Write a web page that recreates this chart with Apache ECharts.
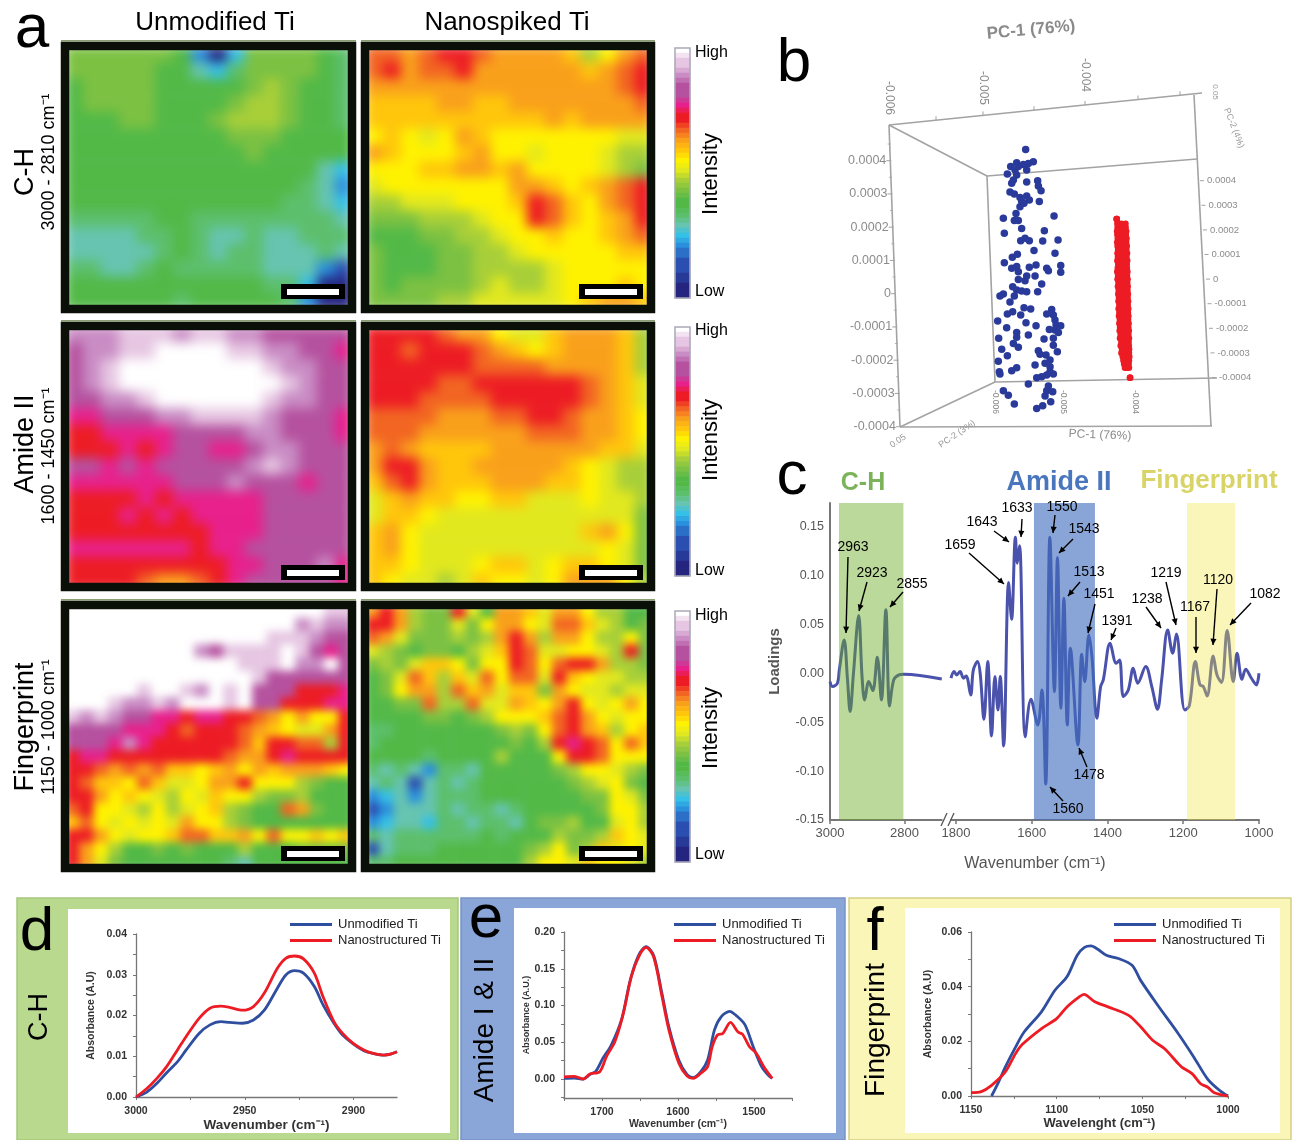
<!DOCTYPE html>
<html><head><meta charset="utf-8"><style>html,body{margin:0;padding:0;background:#fff}#m{width:1293px;height:1140px}</style>
<script src="https://cdn.jsdelivr.net/npm/echarts@6/dist/echarts.min.js"></script></head><body><div id="m"></div>
<script>
// ---- colour scale of the maps, low to high
const intensityColors=['#25257f','#2b4fb0','#2a8fdc','#35c0e8','#66c4b0','#5cbf6c','#52b947','#7cc142','#a8cf38','#e2e81e','#fff200','#ffc60b','#f9a01b','#f26522','#ed1c24','#e8208c','#b5519f','#c98cc4','#e6c6e2','#ffffff'];
const barLevels=[19,18.5,18,18,17.5,17,16.5,16,16,16,15.5,15,14.5,14,14,13.5,13,12.5,12,11.5,11,10.5,10,9.5,9,8.5,8,7.5,7,6.5,6,6,5.5,5,4.5,4,3.5,3,2.5,2,1.5,1.5,1,1,1,.5,.5,0,0,0];
// ---- panel a maps (intensity level per cell, top row first)
const chUnmod=[
[7,7,7,7,7,7,6,2,0,3,7,7,7,7,6,5],[7,7,7,7,7,6,6,4,3,5,7,7,7,7,6,5],[6,7,7,7,7,6,6,6,6,6,7,8,7,6,6,5],[6,7,7,7,7,6,6,6,6,7,8,8,7,6,6,5],
[6,6,6,7,7,6,6,6,7,8,8,8,7,6,6,5],[6,6,6,6,6,6,6,6,6,7,7,7,6,6,6,6],[6,6,6,6,6,6,6,6,6,6,7,6,6,6,6,6],[6,6,6,6,6,6,6,6,6,6,6,6,6,6,4,3],
[6,6,6,6,6,6,6,6,6,6,6,6,6,5,4,2],[6,6,6,6,6,6,6,6,6,6,6,6,5,5,4,3],[5,5,5,5,5,6,6,5,5,5,5,5,5,5,5,4],[4,4,4,4,5,5,6,5,4,4,5,4,4,5,5,5],
[4,4,4,4,4,5,6,5,4,5,5,4,4,4,5,4],[5,5,4,4,5,6,5,5,5,5,5,4,4,4,2,1],[6,6,6,6,6,6,6,6,6,6,6,5,5,3,0,0],[6,6,6,6,6,6,5,6,6,6,6,6,5,2,0,0]];
const chSpiked=[
[13,13,12,13,14,14,13,12,12,12,12,11,8,10,12,13],[13,14,12,13,13,14,12,12,12,12,12,12,11,12,13,14],[12,12,12,12,12,12,12,12,12,12,12,12,12,12,13,14],[11,11,11,11,12,12,11,11,12,12,12,12,12,12,12,13],
[11,11,11,11,11,11,11,11,11,11,12,11,12,12,12,12],[10,11,10,9,10,12,11,10,10,10,10,10,10,10,9,9],[12,11,10,10,10,11,12,10,10,9,10,10,10,9,8,8],[10,10,10,11,11,12,12,11,12,10,10,10,10,9,8,7],
[9,10,10,10,10,10,10,10,12,12,11,10,11,12,13,14],[8,8,9,9,9,10,10,10,11,14,13,11,10,12,13,14],[7,7,7,8,8,8,9,10,10,14,13,11,10,11,12,14],[6,6,6,7,7,8,8,9,10,10,11,10,10,11,12,13],
[7,6,6,6,7,7,8,8,9,10,10,10,10,10,11,11],[7,6,6,6,7,7,8,8,8,8,9,10,10,10,10,10],[7,6,7,7,7,7,8,9,8,8,9,10,10,10,11,10],[7,7,7,7,8,8,9,9,9,9,9,10,11,12,12,11]];
const amideUnmod=[
[17,17,17,18,18,18,17,18,18,17,17,16,16,16,16,16],[16,17,17,18,18,19,19,19,19,18,18,17,17,16,16,15],[16,17,18,19,19,19,19,19,19,19,19,18,17,17,16,16],[16,17,18,19,19,19,19,19,19,19,19,19,18,17,16,16],
[16,16,17,17,18,19,19,19,19,19,19,18,17,17,16,16],[15,15,16,16,16,17,17,18,18,18,18,17,16,16,16,15],[14,14,15,15,15,15,16,16,16,16,17,17,16,16,16,15],[14,14,14,15,14,15,16,16,15,15,16,17,17,16,16,16],
[16,16,15,16,15,16,16,16,16,16,17,18,17,16,16,16],[15,15,15,15,15,15,16,16,16,17,16,16,16,15,16,16],[14,14,14,14,15,14,15,15,15,15,15,16,16,16,16,16],[14,14,14,15,14,15,14,15,15,15,15,16,16,16,16,16],
[14,14,14,14,14,14,14,14,15,15,15,16,16,16,16,16],[15,15,15,15,15,15,15,14,15,15,16,16,16,16,16,16],[14,14,14,14,14,14,14,14,14,15,15,16,16,16,17,15],[14,14,14,14,13,12,12,13,14,15,16,16,16,16,16,15]];
const amideSpiked=[
[14,14,14,14,13,12,12,10,9,9,11,12,12,12,11,8],[14,14,13,14,14,14,13,12,11,10,11,12,12,12,11,8],[14,14,14,14,14,14,13,13,13,13,12,12,12,12,11,8],[14,14,14,14,13,13,14,14,14,14,14,14,13,12,11,9],
[14,14,14,13,13,13,13,14,14,14,14,14,13,12,11,9],[13,13,13,13,12,12,12,13,13,14,14,13,12,12,11,10],[13,13,13,12,12,12,12,12,12,13,13,13,12,12,11,10],[12,13,12,11,11,11,11,12,12,12,12,12,12,11,11,9],
[12,14,14,12,11,11,12,12,12,12,12,11,10,9,8,8],[11,13,14,12,11,11,11,12,12,12,11,11,10,9,8,8],[9,11,12,11,11,10,10,11,11,9,9,9,10,9,9,8],[9,11,11,10,9,9,9,9,9,9,9,9,9,9,9,7],
[11,12,10,9,9,9,9,9,9,9,9,9,11,12,10,7],[11,12,10,9,9,9,9,9,9,9,9,9,9,10,9,7],[11,11,10,9,9,9,10,11,11,9,10,11,11,10,9,7],[11,10,9,9,8,9,11,10,10,9,10,12,12,12,10,8]];
const fpUnmod=[
[19,19,19,19,19,19,19,19,19,19,19,19,19,19,19,19,19,19,18,18],[19,19,19,19,19,19,19,19,19,19,19,19,19,19,19,19,17,18,17,17],[19,19,19,19,19,19,19,19,19,19,19,19,19,19,18,18,18,17,16,16],[19,19,19,19,19,19,19,19,19,17,16,18,18,18,18,19,18,16,15,16],
[19,19,19,19,19,19,19,19,19,19,19,19,18,18,18,19,17,17,19,16],[19,19,19,19,19,19,19,19,19,19,19,19,19,18,16,16,16,16,16,16],[19,19,19,19,19,18,19,19,18,17,19,18,19,16,16,16,14,14,14,15],[19,19,19,18,17,17,18,17,19,19,19,18,19,16,16,14,14,14,15,15],
[18,17,18,17,16,16,15,15,14,15,15,14,14,13,12,10,12,10,10,14],[16,16,16,16,15,15,15,14,13,14,14,14,13,12,11,10,9,9,12,14],[16,16,16,15,17,15,14,14,14,14,14,14,13,11,14,14,13,13,8,14],[14,15,15,14,14,14,14,14,14,14,14,13,12,12,14,15,14,14,14,14],
[14,14,13,12,13,12,13,11,11,10,11,12,10,12,11,12,12,12,11,10],[14,13,11,11,10,13,11,9,9,10,12,12,14,10,10,10,8,7,6,6],[14,14,12,10,11,10,9,8,10,9,11,10,10,8,7,7,8,6,6,6],[13,14,10,10,9,8,10,8,9,10,11,8,7,6,6,13,12,7,6,6],
[11,13,10,9,10,9,10,9,12,10,10,8,7,6,6,6,6,6,6,6],[14,14,12,10,9,10,10,11,13,13,11,11,12,10,13,10,10,11,10,11],[14,12,10,8,6,6,7,6,7,6,6,6,8,6,6,6,7,7,7,7],[14,12,9,7,6,6,6,6,6,6,6,5,4,6,6,6,6,6,6,6]];
const fpSpiked=[
[12,14,12,8,7,7,14,9,6,12,12,11,9,12,12,10,8,8,6,6],[14,14,12,8,7,7,9,7,10,12,12,10,9,13,13,11,9,8,6,7],[13,12,9,7,7,7,8,7,8,12,14,12,8,12,12,10,8,8,10,7],[9,8,7,6,7,7,6,8,9,11,14,13,9,9,10,10,9,8,14,7],
[7,8,7,9,11,11,10,7,10,10,14,13,10,13,14,14,12,8,8,7],[6,7,9,13,11,8,11,9,13,10,13,13,9,14,11,10,9,9,8,8],[6,7,10,12,12,8,13,11,12,9,11,11,7,12,10,9,9,8,9,9],[6,6,7,7,13,8,8,13,9,9,12,11,10,12,14,10,9,10,12,10],
[6,6,6,6,7,7,6,7,8,10,10,10,11,13,14,12,10,9,10,10],[5,5,6,6,6,6,6,6,6,7,8,7,10,13,14,12,11,8,10,11],[5,6,6,6,6,6,6,6,6,6,7,6,8,14,15,14,13,10,13,11],[6,6,6,6,5,6,6,6,6,8,6,6,6,10,14,14,13,10,10,10],
[5,4,5,4,2,5,5,4,6,6,6,6,6,7,8,10,10,9,8,7],[4,5,4,1,4,5,4,5,6,6,6,6,6,6,7,8,9,10,7,6],[2,3,4,2,4,5,5,5,6,6,6,6,6,6,6,7,7,10,9,7],[1,2,4,4,4,5,4,5,5,4,5,6,6,6,6,6,7,10,10,8],
[2,3,4,4,3,5,5,4,5,5,4,6,7,7,8,6,6,9,10,8],[5,4,5,5,5,5,5,5,6,5,6,6,6,8,7,7,8,11,10,9],[1,4,5,5,5,6,6,6,6,6,6,7,8,10,7,8,11,9,10,9],[5,5,6,6,6,6,6,6,6,6,6,8,10,10,9,11,10,10,9,8]];
// ---- panel b (units of 1e-6)
const pc1Blue=[-5556,-5445,-5517,-5589,-5686,-5773,-5662,-5541,-5710,-5821,-5686,-5734,-5758,-5541,-5382,-5372,-5333,-5783,-5720,-5638,-5541,-5503,-5614,-5358,-5580,-5638,-5696,-5145,-5879,-5720,-5662,-5614,-5285,-5865,-5628,-5565,-5503,-5309,-5087,-5435,-5131,-5676,-5749,-5865,-5048,-5406,-5503,-5686,-5758,-5251,-5227,-5048,-5662,-5541,-5420,-5662,-5565,-5324,-5744,-5686,-5614,-5541,-5382,-5879,-5928,-5720,-5783,-5179,-5580,-5483,-5744,-5821,-5628,-5251,-5155,-5131,-5961,-5551,-5116,-5048,-5406,-5831,-5213,-5131,-5686,-5082,-5517,-5686,-5947,-5155,-5290,-5734,-5155,-5662,-5903,-5372,-5097,-5348,-5261,-5821,-5203,-5952,-5275,-5420,-5203,-5686,-5758,-5203,-5937,-5928,-5155,-5251,-5324,-5396,-5517,-5227,-5879,-5251,-5164,-5807,-5275,-5193,-5720,-5309,-5396];
const pc3Blue=[527,477,470,466,473,457,457,443,443,427,423,403,389,395,400,378,359,354,346,332,338,321,315,315,308,294,267,256,247,238,238,206,197,186,156,166,156,155,159,116,105,101,89,67,55,57,48,51,44,44,34,28,30,13,13,-1,-6,-20,-31,-44,-48,-51,-51,-60,-68,-68,-93,-123,-116,-121,-132,-142,-146,-142,-146,-166,-170,-177,-186,-189,-189,-197,-204,-207,-217,-217,-227,-236,-240,-240,-243,-261,-268,-277,-285,-291,-295,-305,-308,-311,-328,-333,-342,-349,-356,-360,-372,-376,-376,-385,-385,-389,-396,-400,-426,-434,-453,-453,-457,-471,-475,-498,-507,-514,-525];
const pc3Red=[244,225,210,195,180,165,150,135,120,105,90,75,60,45,30,15,0,-15,-30,-45,-60,-75,-90,-105,-120,-135,-150,-165,-180,-195,-210,-225,-240,-255,-270,-285,-300,-315,-330,-345,-360,-400];
const pc1RedL=[-4237,-4228,-4225,-4232,-4228,-4222,-4230,-4225,-4218,-4226,-4220,-4228,-4215,-4222,-4230,-4218,-4225,-4212,-4220,-4208,-4215,-4205,-4212,-4200,-4210,-4198,-4205,-4192,-4200,-4188,-4195,-4180,-4190,-4170,-4180,-4160,-4170,-4150,-4140,-4130,-4118,-4044];
const pc1RedM=[-4237,-4170,-4165,-4168,-4160,-4158,-4165,-4155,-4160,-4152,-4158,-4150,-4155,-4148,-4152,-4145,-4150,-4142,-4148,-4140,-4146,-4138,-4142,-4135,-4140,-4132,-4135,-4128,-4132,-4125,-4128,-4120,-4125,-4115,-4118,-4110,-4112,-4105,-4100,-4095,-4090,-4044];
const pc1RedR=[-4237,-4110,-4108,-4100,-4105,-4095,-4100,-4092,-4098,-4088,-4095,-4085,-4092,-4090,-4082,-4088,-4080,-4085,-4078,-4082,-4075,-4080,-4072,-4078,-4070,-4075,-4068,-4072,-4065,-4070,-4062,-4068,-4060,-4065,-4062,-4058,-4060,-4055,-4060,-4065,-4060,-4044];
const bLeftTicks=['0.0004','0.0003','0.0002','0.0001','0','-0.0001','-0.0002','-0.0003','-0.0004'];
const bRightTicks=['0.0004','0.0003','0.0002','0.0001','0','-0.0001','-0.0002','-0.0003','-0.0004'];
// ---- panel c
const cLeftWn=[3000,2993,2980,2975,2962,2953,2946,2937,2923,2914,2907,2896,2885,2873,2862,2850,2840,2829,2815,2802,2700];
const cLeftLoad=[-.0085,-.0136,-.0102,.0034,.0341,-.0068,-.0392,0,.059,-.0034,-.0273,-.0085,-.0177,.0164,-.0273,.0648,-.0334,-.0068,-.0017,-.001,-.0058];
const cRightWn=[1813,1805,1798,1789,1780,1773,1761,1754,1743,1736,1726,1716,1706,1697,1689,1683,1674,1661,1653,1643,1638,1632,1617,1602,1584,1573,1563,1552,1540,1532,1523,1515,1506,1498,1478,1468,1460,1449,1441,1428,1418,1411,1393,1377,1368,1358,1345,1332,1320,1299,1283,1268,1257,1241,1228,1218,1196,1184,1168,1156,1147,1137,1121,1111,1099,1084,1068,1058,1045,1035,1020,1007,1000];
const cRightLoad=[-.0051,.0017,-.0017,.0017,-.0051,-.0027,-.0222,.0034,.0119,0,-.0471,.0119,-.0641,-.0034,-.0375,-.0034,-.0743,.0928,.0552,.1391,.1125,.1303,-.0648,-.0266,-.0529,-.0171,-.1132,.1391,-.0188,.1183,-.0358,.0767,-.0529,.0256,-.0733,.0194,-.0085,.0392,.0171,-.046,-.0136,-.0068,.0307,.0102,.0136,-.0239,-.0171,.0051,-.0102,.0068,-.0136,-.0368,-.0068,.0443,.0205,.0402,-.0375,-.0334,.0119,-.0119,-.0136,-.0232,.0177,-.0017,-.0095,.0436,-.0085,.0205,-.0061,.0041,-.0051,-.0119,0];
const cBands=[['C-H',2976,2803],['Amide II',1594,1433],['Fingerprint',1190,1063]];
const cYTicks=[-.15,-.1,-.05,0,.05,.1,.15];
const cLeftXTicks=[3000,2800],cRightXTicks=[1800,1600,1400,1200,1000];
const peakLabels=[['2963',853,547,848,557,846,633],['2923',872,573,867,582,859,611],['2855',912,584,903,592,890,607],['1659',960,545,969,553,1004,584],['1643',982,522,994,531,1009,542],['1633',1017,508,1022,519,1021,537],['1550',1062,507,1055,515,1053,533],['1543',1084,529,1073,539,1059,553],['1513',1089,572,1080,582,1068,596],['1451',1099,594,1095,604,1088,633],['1391',1117,621,1116,628,1111,640],['1238',1147,599,1146,607,1161,628],['1219',1166,573,1166,582,1176,625],['1167',1195,607,1196,617,1196,653],['1120',1218,580,1217,589,1213,645],['1082',1265,594,1251,603,1230,625],['1478',1089,775,1087,767,1079,748],['1560',1068,809,1063,801,1050,787]];
// ---- panel d
const dWn=[3000,2995,2990.5,2986,2981,2977,2971,2966,2961,2957,2951,2946,2941,2935,2931,2927,2923,2918,2914,2909,2905,2900,2895,2891,2886,2883,2880];
const dUnmod=[0,.0012,.0033,.0059,.0086,.0115,.0156,.0177,.0185,.0183,.0181,.0189,.0213,.0267,.03,.031,.0304,.0271,.0226,.0181,.0152,.013,.0113,.0107,.0103,.0105,.0111];
const dNano=[0,.0021,.0045,.0074,.0115,.0148,.0193,.0218,.0223,.022,.0213,.0222,.0255,.0316,.0341,.0346,.0339,.0304,.0246,.0185,.0156,.0131,.0115,.0107,.0103,.0105,.0111];
// ---- panel e
const eWnU=[1750,1736,1725,1716,1708,1699,1688,1674,1663,1652,1642,1632,1621,1612,1599,1588,1580,1570,1561,1552,1543,1532,1523,1512,1501,1490,1481,1476];
const eUnmod=[.001,.0014,0,.006,.011,.028,.046,.082,.134,.168,.18,.168,.116,.071,.026,.006,.002,.01,.026,.067,.085,.092,.086,.074,.044,.017,.005,.001];
const eWnN=[1750,1736,1725,1716,1703,1694,1683,1672,1661,1650,1642,1632,1621,1612,1599,1588,1580,1570,1561,1555,1548,1541,1531,1521,1515,1506,1497,1486,1476];
const eNano=[.003,.0036,0,.007,.01,.031,.051,.089,.141,.17,.179,.166,.112,.067,.022,.004,.001,.008,.017,.044,.06,.062,.077,.064,.061,.044,.035,.015,.001];
// ---- panel f
const fWnU=[1138,1134,1130,1124,1119,1109,1101,1094,1088,1084,1080,1076,1071,1064,1056,1051,1041,1029,1020,1012,1005,1000];
const fUnmod=[0,.005,.0106,.0179,.0234,.0307,.0387,.0436,.0515,.0543,.0549,.0537,.0515,.0503,.0478,.0423,.0332,.0228,.0143,.0063,.0021,0];
const fWnN=[1150,1144,1138,1130,1124,1120,1109,1100,1094,1087,1084,1078,1070,1058,1051,1044,1037,1029,1027,1021,1016,1012,1008,1000];
const fNano=[.0012,.0016,.0039,.0088,.0155,.0189,.0246,.0283,.0326,.0362,.0372,.0346,.0326,.0295,.0253,.0204,.0173,.0118,.0106,.0082,.0045,.0033,.0012,0];
const zip=(a,b)=>a.map((v,i)=>[v,b[i]]);
const FONT='"Liberation Sans", Arial, sans-serif';
const TOP=2;
const grid=[],xAxis=[],yAxis=[],series=[],els=[];
const heatIdx=[];
function addGrid(r){grid.push({left:r[0],top:r[1],width:r[2],height:r[3],containLabel:false,show:false});return grid.length-1}
function heat(m,r,z){
  const g=addGrid(r);
  xAxis.push({type:'category',gridIndex:g,show:false,data:m[0].map((_,i)=>i)});
  yAxis.push({type:'category',gridIndex:g,show:false,inverse:true,data:m.map((_,i)=>i)});
  const d=[];m.forEach((row,y)=>row.forEach((v,x)=>d.push([x,y,v])));
  heatIdx.push(series.length);
  series.push({type:'heatmap',xAxisIndex:g,yAxisIndex:g,data:d,zlevel:z,z:2,progressive:0,silent:true});
}
// maps
const colL=65,colR=365,mapW=288,rows=[46,326,605];
[[chUnmod,chSpiked],[amideUnmod,amideSpiked],[fpUnmod,fpSpiked]].forEach((p,i)=>{
  const lay=i==2?1:0;
  heat(p[0],[colL,rows[i],mapW,264],lay);heat(p[1],[colR,rows[i],mapW,264],lay);
});
// colour bars
const barR=[[675,48,15,250],[675,327,15,249],[675,611,15,251]];
barR.forEach(r=>heat(barLevels.map(v=>[v]),r,TOP));
// graphic helpers
const T=(text,x,y,size,o={})=>els.push({type:'text',x,y,rotation:o.rot||0,zlevel:TOP,z:o.z||9,silent:true,style:{text,fill:o.color||'#000',font:`${o.weight||'normal'} ${size}px ${FONT}`,textAlign:o.align||'center',textVerticalAlign:'middle'}});
const L=(x1,y1,x2,y2,c='#9a9a9a',w=1.6)=>els.push({type:'line',zlevel:TOP,z:6,silent:true,shape:{x1,y1,x2,y2},style:{stroke:c,lineWidth:w}});
const R=(x,y,w,h,fill,z=1,stroke,lw)=>els.push({type:'rect',zlevel:TOP,z,silent:true,shape:{x,y,width:w,height:h},style:{fill,stroke,lineWidth:lw||0}});
function arrow(x1,y1,x2,y2){
  L(x1,y1,x2,y2,'#000',1.4);
  const a=Math.atan2(y2-y1,x2-x1),s=7;
  els.push({type:'polygon',zlevel:TOP,z:8,silent:true,shape:{points:[[x2,y2],[x2-s*Math.cos(a-.45),y2-s*Math.sin(a-.45)],[x2-s*Math.cos(a+.45),y2-s*Math.sin(a+.45)]]},style:{fill:'#000'}});
}
// frames and scale bars
const frameTops=[46,326,605],frameH=[263,261,263],barY=[284,565,846];
frameTops.forEach((t,i)=>{[65,365].forEach((x,j)=>{
  const fw=j?286:287,h=frameH[i];
  // white margin that stops the soft map edge from spilling past the frame
  R(x-16,t-16,fw+32,12,'#fff',3);R(x-16,t+h+4,fw+32,12,'#fff',3);R(x-16,t-16,12,h+32,'#fff',3);R(x+fw+4,t-16,12,h+32,'#fff',3);
  R(x-4,t-6,fw+8,1.5,'#8aa070',4);
  els.push({type:'rect',zlevel:TOP,z:4,silent:true,shape:{x,y:t,width:fw,height:h},style:{fill:'none',stroke:'#0a0f08',lineWidth:8.5}});
  const bx=j?579:281;
  R(bx,barY[i],64,15,'#000',5);R(bx+6,barY[i]+5,52,6,'#fff',6);
})});
barR.forEach(r=>{R(r[0],r[1],r[2],r[3],'none',5,'#a9a9b8',1.5)});
T('a',32,30,62);T('b',794,64,62);T('c',792,477,62);T('d',37,933,62);T('e',486,920,62);T('f',875,933,62);
T('Unmodified Ti',215,23,26);T('Nanospiked Ti',507,23,26);
const up=Math.PI/2;
[['C-H','3000 - 2810 cm⁻¹',172,162],['Amide II','1600 - 1450 cm⁻¹',444,456],['Fingerprint','1150 - 1000 cm⁻¹',727,727]].forEach(a=>{T(a[0],26,a[2],27,{rot:up});T(a[1],49,a[3],18,{rot:up})});
[[53,292,174],[331,571,440],[616,855,728]].forEach(a=>{T('High',695,a[0],16,{align:'left'});T('Low',695,a[1],16,{align:'left'});T('Intensity',711,a[2],22,{rot:up})});
// panel b frame
const G='#a3a3a3';
[[889,125,1202,93],[889,125,900,427],[900,427,1212,426],[1194,95,1211,426],[889,125,987,176],[987,176,1197,159],[987,176,995,382],[995,382,1217,378],[900,427,995,382]].forEach(s=>L(s[0],s[1],s[2],s[3],G,1.6));
T('PC-1 (76%)',1031,30,17,{color:'#8a8a8a',rot:.09,weight:'bold'});
T('PC-1 (76%)',1100,435,12,{color:'#8a8a8a',rot:-.04});
bLeftTicks.forEach((s,i)=>{const y=160.7+33.25*i,x=890+(y-125)*.036;T(s,x-5,y,12.5,{color:'#8c8c8c',align:'right'});L(x,y,x-5,y,G,1)});
for(let i=0;i<9;i++){const y=144+33.25*i,x=890+(y-125)*.036;L(x,y,x-3,y,G,.8)}
bRightTicks.forEach((s,i)=>{const y=180.7+24.6*i,x=1207+i*1.5;T(s,x,y,9.5,{color:'#8c8c8c',align:'left'});L(x-7,y,x-3,y,G,1)});
[['-0.006',889,98],['-0.005',983,88],['-0.004',1085,75]].forEach(a=>T(a[0],a[1],a[2],12,{color:'#8c8c8c',rot:-up}));
[['-0.006',995,402],['-0.005',1063,402],['-0.004',1135,402]].forEach(a=>T(a[0],a[1],a[2],8.5,{color:'#888',rot:-up}));
[936,983,1034,1085,1138,1180].forEach((x,i)=>{const y=125-(x-889)*.1022;L(x,y,x,y-4,G,1)});
T('PC-2 (3%)',957,434,9,{color:'#999',rot:.6});T('0.05',898,441,9,{color:'#999',rot:.6});T('PC-2 (4%)',1234,128,9,{color:'#999',rot:-1.2});T('0.05',1215,92,8,{color:'#999',rot:-up});
// panel c decoration
T('C-H',863,483,25,{color:'#7cb35a',weight:'bold'});T('Amide II',1059,483,27,{color:'#4a76bd',weight:'bold'});T('Fingerprint',1209,481,26,{color:'#d8d468',weight:'bold'});
L(941,826,947,813,'#555',1.3);L(948,826,954,813,'#555',1.3);
peakLabels.forEach(p=>{T(p[0],p[1],p[2],14);arrow(p[3],p[4],p[5],p[6])});
// lower panels
R(17,898,441,242,'#b9d98f',0,'#a6c67e',1.5);R(68,909,382,224,'#fff',1);
R(461,898,384,242,'#8aa6d8',0,'#7893c4',1.5);R(514,908,322,225,'#fff',1);
R(849,898,442,242,'#faf6b8',0,'#d4d086',1.5);R(905,908,375,225,'#fff',1);
T('C-H',40,1017,27,{rot:up});T('Amide I & II',485,1030,28,{rot:up});T('Fingerprint',876,1030,28,{rot:up});
// panel b scatter
const gB=addGrid([995,131.4,145,295.5]);
xAxis.push({type:'value',gridIndex:gB,show:false,min:-6000,max:-3900});
yAxis.push({type:'value',gridIndex:gB,show:false,min:-600,max:600});
series.push({type:'scatter',xAxisIndex:gB,yAxisIndex:gB,zlevel:TOP,z:7,silent:true,clip:false,symbolSize:7.5,itemStyle:{color:'#2a3a9a',opacity:1},data:zip(pc1Blue,pc3Blue)});
const redPts=[];pc3Red.forEach((y,i)=>{redPts.push([pc1RedL[i],y],[pc1RedM[i],y],[pc1RedR[i],y])});
series.push({type:'scatter',xAxisIndex:gB,yAxisIndex:gB,zlevel:TOP,z:7,silent:true,clip:false,symbolSize:6.5,itemStyle:{color:'#ed1c24',opacity:1},data:redPts});
// panel c
const axisGrey='#777',labGrey='#555';
const gC1=addGrid([830,503,111.75,317]),gC2=addGrid([951,503,308,317]);
const cX=(g,ticks)=>({type:'value',gridIndex:g,inverse:true,zlevel:TOP,z:3,splitLine:{show:false},axisLine:{onZero:false,lineStyle:{color:axisGrey,width:2}},axisTick:{length:4,customValues:ticks,lineStyle:{color:axisGrey,width:1.5}},axisLabel:{color:labGrey,fontSize:13,fontFamily:FONT,margin:7,hideOverlap:false,customValues:ticks,formatter:v=>String(v)}});
xAxis.push({...cX(gC1,cLeftXTicks),min:2700,max:3000});
xAxis.push({...cX(gC2,cRightXTicks),min:1000,max:1813,name:'Wavenumber (cm⁻¹)',nameLocation:'middle',nameGap:36,nameTextStyle:{color:'#555',fontSize:16,fontFamily:FONT,padding:[0,0,0,-140]}});
yAxis.push({type:'value',gridIndex:gC1,min:-.15,max:.174,zlevel:TOP,z:3,name:'Loadings',nameLocation:'middle',nameGap:48,nameTextStyle:{color:'#555',fontSize:15,fontWeight:'bold',fontFamily:FONT},splitLine:{show:false},axisLine:{lineStyle:{color:axisGrey,width:2}},axisTick:{show:false},axisLabel:{customValues:cYTicks,color:labGrey,fontSize:12.5,fontFamily:FONT,margin:6,formatter:v=>v.toFixed(2)}});
yAxis.push({type:'value',gridIndex:gC2,min:-.15,max:.174,show:false});
const specStyle={type:'line',smooth:.35,showSymbol:false,clip:false,silent:true,zlevel:TOP,z:3,lineStyle:{color:'#4a52ac',width:3}};
series.push({...specStyle,xAxisIndex:gC1,yAxisIndex:gC1,data:zip(cLeftWn,cLeftLoad)});
series.push({...specStyle,xAxisIndex:gC2,yAxisIndex:gC2,data:zip(cRightWn,cRightLoad)});
const band=(b,c)=>[{xAxis:b[1],itemStyle:{color:c}},{xAxis:b[2]}];
series.push({type:'line',xAxisIndex:gC1,yAxisIndex:gC1,data:[],zlevel:TOP,z:4,silent:true,markArea:{silent:true,zlevel:TOP,z:4,data:[band(cBands[0],'rgba(105,170,30,.45)')]}});
series.push({type:'line',xAxisIndex:gC2,yAxisIndex:gC2,data:[],zlevel:TOP,z:4,silent:true,markArea:{silent:true,zlevel:TOP,z:4,data:[band(cBands[1],'rgba(65,110,190,.62)'),band(cBands[2],'rgba(240,230,60,.36)')]}});
// panels d,e,f
const BLUE='#2f4ea0',RED='#ed1c24';
function spectrum(r,xo,yo,xname,yname,namesize,xnamesize,lines){
  const g=addGrid(r);
  const ax={type:'value',gridIndex:g,zlevel:TOP,z:3,splitLine:{show:false},axisLine:{onZero:false,lineStyle:{color:'#777',width:1.3}},axisTick:{length:3,lineStyle:{color:'#777'}}};
  const lab={color:'#333',fontSize:10.5,fontWeight:'bold',fontFamily:FONT};
  xAxis.push({...ax,inverse:true,min:xo.min,max:xo.max,name:xname,nameLocation:'middle',nameGap:xo.gap,nameTextStyle:{fontFamily:FONT,fontSize:xnamesize,fontWeight:'bold',color:'#333'},axisTick:{...ax.axisTick,customValues:xo.ticks},axisLabel:{...lab,margin:9,customValues:xo.labels,formatter:v=>String(v)}});
  yAxis.push({...ax,min:yo.min,max:yo.max,name:yname,nameLocation:'middle',nameGap:yo.gap,nameTextStyle:{fontFamily:FONT,fontSize:namesize,fontWeight:'bold',color:'#333'},axisTick:{...ax.axisTick,customValues:yo.ticks},axisLabel:{...lab,margin:9,customValues:yo.labels,formatter:v=>v.toFixed(2)}});
  lines.forEach(l=>series.push({type:'line',name:l[0],xAxisIndex:g,yAxisIndex:g,smooth:.3,showSymbol:false,silent:true,zlevel:TOP,z:4,clip:false,lineStyle:{color:l[1],width:2.8},itemStyle:{color:l[1]},data:l[2]}));
}
spectrum([136,934,261,163],{min:2880,max:3000,gap:21,labels:[3000,2950,2900],ticks:[3000,2975,2950,2925,2900]},{min:0,max:.04,gap:39,labels:[0,.01,.02,.03,.04],ticks:[0,.005,.01,.015,.02,.025,.03,.035,.04]},'Wavenumber (cm⁻¹)','Absorbance (A.U)',10.5,13.5,
 [['Unmodified Ti',BLUE,zip(dWn,dUnmod)],['Nanostructured Ti',RED,zip(dWn,dNano)]]);
spectrum([564,932,228,166],{min:1450,max:1750,gap:21,labels:[1700,1600,1500],ticks:[1750,1700,1650,1600,1550,1500,1450]},{min:-.0257,max:.2,gap:33,labels:[0,.05,.1,.15,.2],ticks:[-.025,0,.025,.05,.075,.1,.125,.15,.175,.2]},'Wavenumber (cm⁻¹)','Absorbance (A.U.)',9,10.5,
 [['Unmodified Ti',BLUE,zip(eWnU,eUnmod)],['Nanostructured Ti',RED,zip(eWnN,eNano)]]);
spectrum([971,932,257,164],{min:1000,max:1150,gap:21,labels:[1150,1100,1050,1000],ticks:[1150,1125,1100,1075,1050,1025,1000]},{min:0,max:.06,gap:37,labels:[0,.02,.04,.06],ticks:[0,.01,.02,.03,.04,.05,.06]},'Wavelenght (cm⁻¹)','Absorbance (A.U)',10.5,13,
 [['Unmodified Ti',BLUE,zip(fWnU,fUnmod)],['Nanostructured Ti',RED,zip(fWnN,fNano)]]);
const legendAt=x=>({show:true,left:x,top:917,orient:'vertical',zlevel:TOP,z:9,icon:'rect',itemWidth:42,itemHeight:3,itemGap:1,padding:0,selectedMode:false,data:['Unmodified Ti','Nanostructured Ti'],textStyle:{fontFamily:FONT,fontSize:13,color:'#222',padding:[0,0,0,1],lineHeight:15}});
const chart=echarts.init(document.getElementById('m'),null,{renderer:'canvas',width:1293,height:1140});
chart.setOption({animation:false,backgroundColor:'#fff',grid,xAxis,yAxis,series,
 legend:[legendAt(290),legendAt(674),legendAt(1114)],
 visualMap:{show:false,type:'continuous',min:0,max:19,seriesIndex:heatIdx,inRange:{color:intensityColors}},
 graphic:{elements:els}});
const cv=chart.getDom().querySelectorAll('canvas');
if(cv[0])cv[0].style.filter='blur(6px)';
if(cv[1])cv[1].style.filter='blur(4px)';
if(cv[2])cv[2].style.filter='blur(0.4px)';
</script></body></html>
